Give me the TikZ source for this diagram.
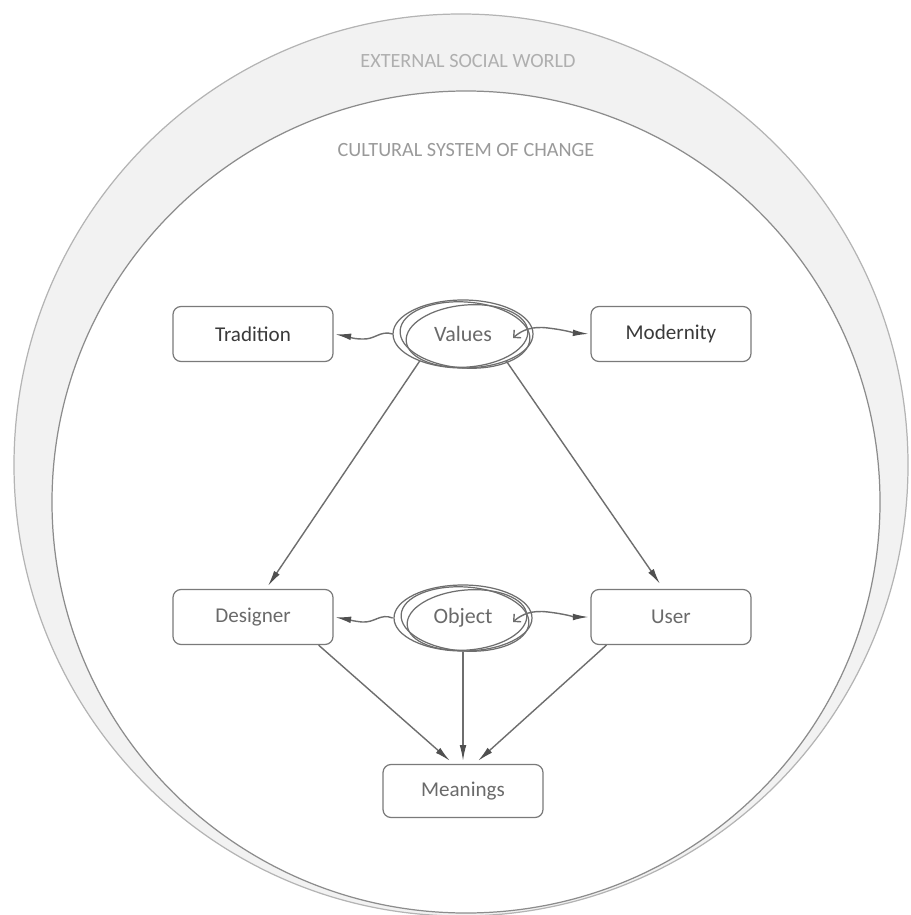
\documentclass[tikz,border=0pt]{standalone}
\usepackage{fontspec}
\setmainfont{Carlito}
\usetikzlibrary{shapes.geometric,arrows.meta,calc}

\definecolor{ringfill}{HTML}{F2F2F2}
\definecolor{outerline}{HTML}{B4B4B4}
\definecolor{innerline}{HTML}{8C8C8C}
\definecolor{ringtext}{HTML}{AFAFAF}
\definecolor{systext}{HTML}{9A9A9A}
\definecolor{boxline}{HTML}{7A7A7A}
\definecolor{labgray}{HTML}{6A6A6A}
\definecolor{darktext}{HTML}{3A3A3A}
\definecolor{linkgray}{HTML}{6E6E6E}
\definecolor{tipgray}{HTML}{505050}

\begin{document}
\begin{tikzpicture}[x=0.02cm,y=-0.02cm,
  box/.style={draw=boxline, line width=0.7pt, rounded corners=0.16cm,
    minimum width=3.2cm, minimum height=1.1cm, fill=white,
    font=\fontsize{12}{14}\selectfont, text=labgray},
  keybox/.style={box, text=darktext},
  oval/.style={ellipse, minimum width=2.8cm, minimum height=1.36cm,
    inner sep=0pt, font=\fontsize{12.5}{14}\selectfont, text=labgray},
  sketch/.style={draw=linkgray, line width=0.7pt},
  ringlabel/.style={font=\fontsize{11.5}{13}\selectfont},
  tip/.style={-{Latex[length=9pt,width=3.8pt,color=tipgray]}},
  link/.style={draw=linkgray, line width=0.8pt, tip},
  sidelink/.style={link, shorten >=1pt},
  backbarb/.style={{Straight Barb[length=3pt,width=6pt]}-{Latex[length=9pt,width=3.8pt,color=tipgray]}},
]
\useasboundingbox (0,0) rectangle (910,915);

% two nested rings: the social world and the cultural system inside it
\filldraw[fill=ringfill, draw=outerline, line width=0.7pt]
  (461,465) ellipse [x radius=447, y radius=451];
\filldraw[fill=white, draw=innerline, line width=0.7pt]
  (466,502) ellipse [x radius=414, y radius=411];

\node[ringlabel, text=ringtext] (ext) at (468,61) {EXTERNAL SOCIAL WORLD};
\node[ringlabel, text=systext] (cul) at (466,150) {CULTURAL SYSTEM OF CHANGE};

% boxes
\node[keybox] (tra) at (253,334) {Tradition};
\node[keybox] (mod) at (671,334) {Modernity};
\node[box] (des) at (253,617) {Designer};
\node[box] (usr) at (671,617) {User};
\node[box, minimum height=1.06cm] (mea) at (463,791) {Meanings};

% hand-drawn ovals
\node[oval] (val) at (463,334) {Values};
\draw[sketch] (463,334) ellipse [x radius=70, y radius=34];
\draw[sketch, rotate around={-4:(465,335)}] (465,335) ellipse [x radius=65, y radius=33];
\draw[sketch, rotate around={5:(467,336)}] (467,336) ellipse [x radius=61, y radius=31];

\node[oval] (obj) at (463,618) {Object};
\draw[sketch] (463,618) ellipse [x radius=69, y radius=33];
\draw[sketch, rotate around={-4:(465,619)}] (465,619) ellipse [x radius=64, y radius=32];
\draw[sketch, rotate around={5:(467,620)}] (467,620) ellipse [x radius=60, y radius=30];

% values pulled towards tradition and modernity
\draw[sidelink] (val.west) .. controls (380,330) and (375,340) .. (362,339)
  .. controls (352,339) and (346,336) .. (tra.east);
\draw[sidelink, backbarb]
  ($(val.center)+(50,4)$) .. controls (522,330) and (532,326) .. (548,328)
  .. controls (565,330) and (575,333) .. (mod.west);

% object between designer and user
\draw[sidelink] (obj.west) .. controls (380,613) and (375,623) .. (362,622)
  .. controls (352,621) and (346,619) .. (des.east);
\draw[sidelink, backbarb]
  ($(obj.center)+(50,4)$) .. controls (522,614) and (532,610) .. (548,612)
  .. controls (565,614) and (575,617) .. (usr.west);

% values shape both designer and user
\draw[link] (val.212) -- ([xshift=0.3cm, yshift=0.06cm]des.north);
\draw[link] (val.328) -- ([xshift=-0.22cm, yshift=0.1cm]usr.north);

% meanings arise from designer, object and user
\draw[link] ([xshift=-0.3cm]des.south east) -- ([xshift=-0.26cm, yshift=0.06cm]mea.north);
\draw[link] (obj.south) -- ([yshift=0.06cm]mea.north);
\draw[link] ([xshift=0.32cm]usr.south west) -- ([xshift=0.3cm, yshift=0.06cm]mea.north);
\end{tikzpicture}
\end{document}
